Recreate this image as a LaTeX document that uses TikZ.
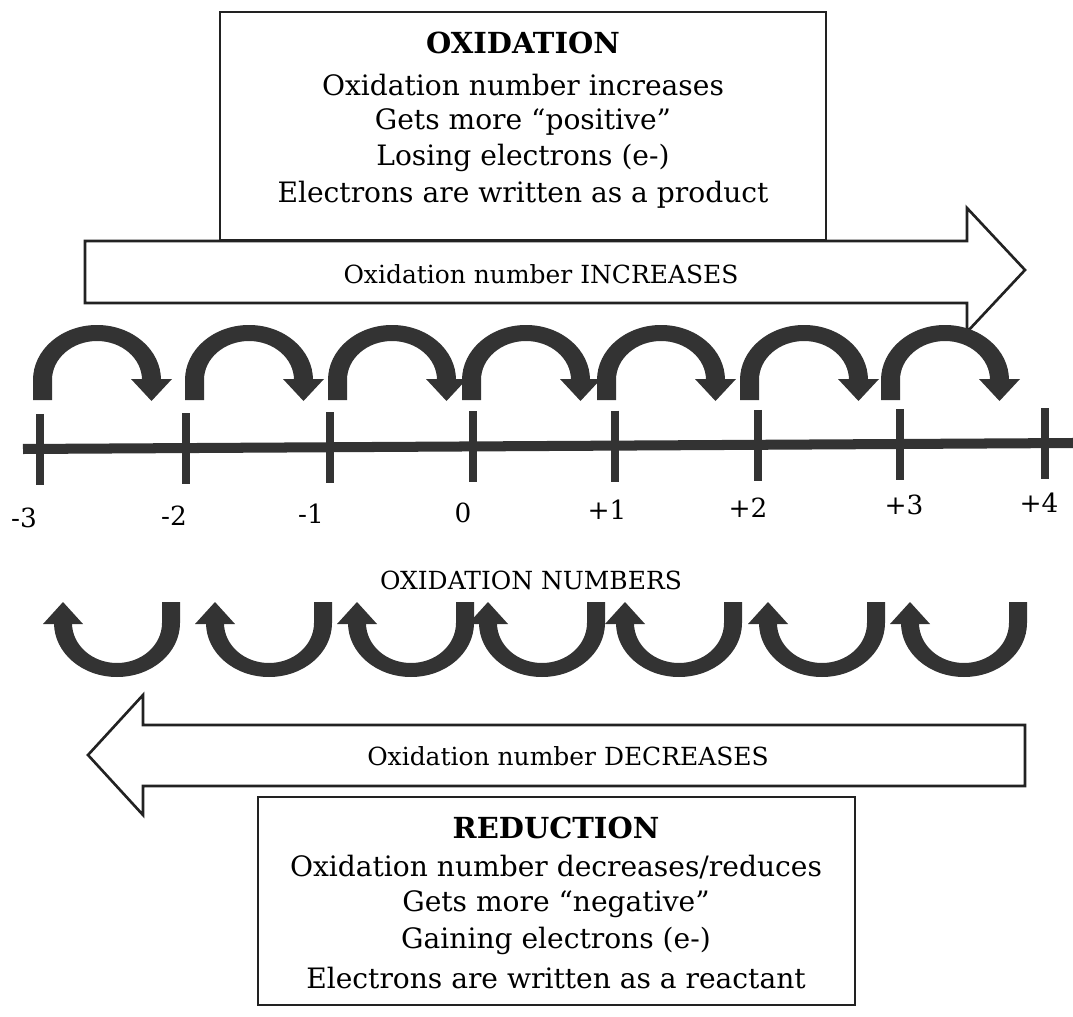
\documentclass[tikz,border=0pt]{standalone}
\usepackage{fontspec}
\setmainfont{DejaVu Serif}
\definecolor{ink}{HTML}{333333}
\definecolor{edge}{HTML}{222222}
\begin{document}
\begin{tikzpicture}[x=0.02cm,y=0.02cm,
  boxline/.style={draw=edge,line width=1.2pt},
  bigarrow/.style={draw=edge,line width=1.5pt,fill=white,line join=miter},
  titletext/.style={font=\fontsize{16.5}{20}\selectfont\bfseries,inner sep=0pt},
  bodytext/.style={font=\fontsize{16}{19}\selectfont,inner sep=0pt},
  midtext/.style={font=\fontsize{14.2}{17}\selectfont,inner sep=0pt},
  numtext/.style={font=\fontsize{15}{18}\selectfont,inner sep=0pt}]
\useasboundingbox (0,0) rectangle (1073,-1017);

% top box
\draw[boxline] (220,-12) rectangle (826,-240);
\node[titletext] (oxtitle) at (523,-43) {OXIDATION};
\node[bodytext] (ox1) at (523,-85) {Oxidation number increases};
\node[bodytext] (ox2) at (523,-122) {Gets more “positive”};
\node[bodytext] (ox3) at (523,-158) {Losing electrons (e-)};
\node[bodytext] (ox4) at (523,-195) {Electrons are written as a product};

% right big arrow
\draw[bigarrow] (85,-241) -- (967,-241) -- (967,-208) -- (1025,-270) -- (967,-332) -- (967,-303) -- (85,-303) -- cycle;
\node[midtext] (inc) at (541,-274) {Oxidation number INCREASES};

% upper curved arrows
\foreach \L in {33,185,328,462,597,740,881} {
  \fill[ink] (\L,-400) -- (\L,-380) arc[start angle=180,end angle=0,x radius=64,y radius=55]
     -- (\L+109,-380) arc[start angle=0,end angle=180,x radius=45,y radius=39]
     -- (\L+19,-400) -- cycle;
  \fill[ink] (\L+98,-379) -- (\L+139,-379) -- (\L+118.5,-401) -- cycle;
}

% number line
\coordinate (nlA) at (23,-449);
\coordinate (nlB) at (1073,-443);
\draw[ink,line width=5.7pt] (nlA) -- (nlB);
\foreach \x/\lab/\lx/\ly [count=\i] in {40/-3/24/-518,186/-2/174/-516,330/-1/311/-514,473/0/463/-513,615/+1/607/-510,758/+2/748/-508,900/+3/904/-505,1045/+4/1039/-503} {
  \pgfmathsetmacro{\yl}{-449+6*(\x-23)/1050}
  \draw[ink,line width=4.6pt] (\x,\yl+35) -- (\x,\yl-36);
  \node[numtext] (n\i) at (\lx,\ly) {\lab};
}

\node[midtext] (onum) at (531,-580) {OXIDATION NUMBERS};

% lower curved arrows
\foreach \t in {63,215,357,488,625,768,910} {
  \fill[ink] (\t+117,-602) -- (\t+117,-623) arc[start angle=0,end angle=-180,x radius=63,y radius=54]
     -- (\t+9,-623) arc[start angle=180,end angle=360,x radius=45,y radius=40]
     -- (\t+99,-602) -- cycle;
  \fill[ink] (\t-20,-624) -- (\t+20,-624) -- (\t,-602) -- cycle;
}

% left big arrow
\draw[bigarrow] (1025,-725) -- (143,-725) -- (143,-695) -- (88,-755) -- (143,-815) -- (143,-786) -- (1025,-786) -- cycle;
\node[midtext] (dec) at (568,-756) {Oxidation number DECREASES};

% bottom box
\draw[boxline] (258,-797) rectangle (855,-1005);
\node[titletext] (redtitle) at (556,-828) {REDUCTION};
\node[bodytext] (rd1) at (556,-867) {Oxidation number decreases/reduces};
\node[bodytext] (rd2) at (556,-904) {Gets more “negative”};
\node[bodytext] (rd3) at (556,-941) {Gaining electrons (e-)};
\node[bodytext] (rd4) at (556,-978) {Electrons are written as a reactant};
\end{tikzpicture}
\end{document}
